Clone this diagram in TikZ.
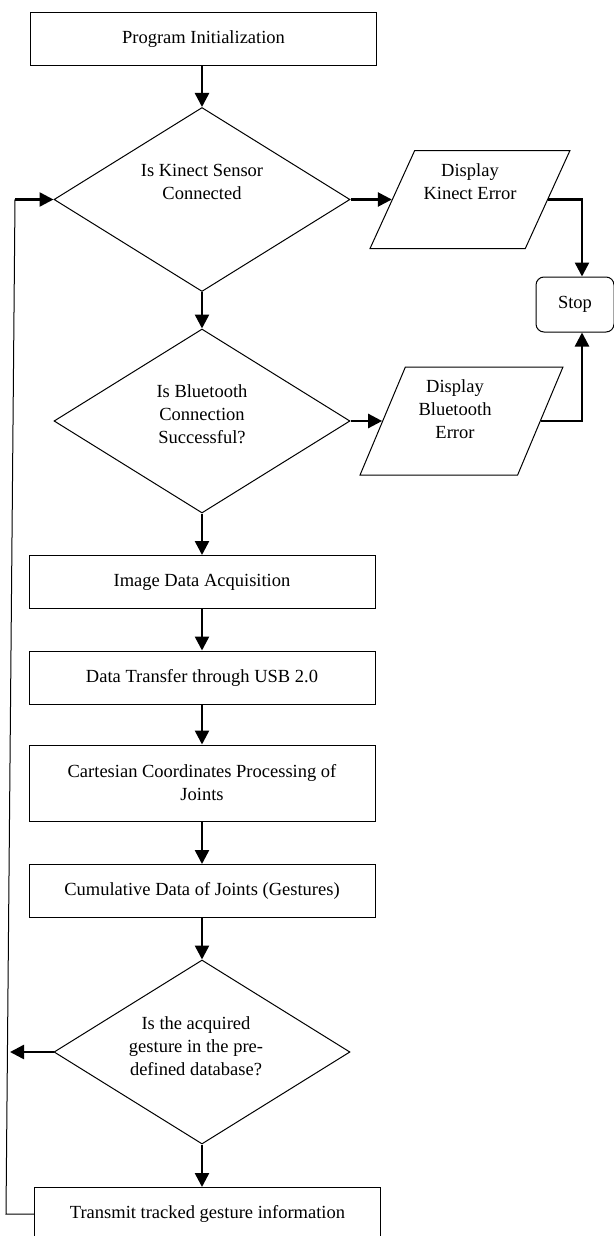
\documentclass[tikz,border=0pt]{standalone}
\usepackage{fontspec}
\setmainfont{Liberation Serif}
\usetikzlibrary{shapes.geometric}
\usetikzlibrary{arrows.meta}
\tikzstyle{process}=[rectangle,draw=black,line width=1,minimum width=346pt,minimum height=53pt,inner sep=0pt,align=center]
\tikzstyle{decision}=[diamond,draw=black,line width=1,minimum width=296pt,minimum height=184pt,inner sep=0pt]
\tikzstyle{io}=[trapezium,trapezium left angle=68,trapezium right angle=112,trapezium stretches,draw=black,line width=1,inner sep=4pt]
\tikzstyle{stopbox}=[rectangle,rounded corners=8pt,draw=black,line width=1,minimum width=78pt,minimum height=55pt]
\tikzstyle{txt}=[align=center,inner sep=0pt]
\tikzstyle{arrow}=[-{Triangle[length=14pt,width=14pt]},line width=2.5]
\tikzstyle{link}=[line width=1]
\tikzset{every picture/.style={
    x=1pt,y=-1pt,
    font=\fontsize{18.5}{23}\selectfont
  }
}

\begin{document}
\begin{tikzpicture}
      \useasboundingbox (0,0) rectangle (613,1236);
      \node[process] at (203.5,39.5) (init) {Program Initialization};
      \node[decision] at (202,199.5) (d1) {};
      \node[txt] at (202,181.5) (d1txt) {Is Kinect Sensor\\Connected};
      \node[io,minimum width=200pt,minimum height=98pt] at (470,199.5) (p1) {};
      \node[txt] at (470,182) (p1txt) {Display\\Kinect Error};
      \node[stopbox] at (575,304.5) (stop) {Stop};
      \node[decision] at (202,421) (d2) {};
      \node[txt] at (202,414) (d2txt) {Is Bluetooth\\Connection\\Successful?};
      \node[io,minimum width=203pt,minimum height=108pt] at (461.5,421) (p2) {};
      \node[txt] at (455,409) (p2txt) {Display\\Bluetooth\\Error};
      \node[process] at (202,582) (img) {Image Data Acquisition};
      \node[process] at (202,677.5) (usb) {Data Transfer through USB 2.0};
      \node[process,minimum height=76pt] at (202,783) (cart) {Cartesian Coordinates Processing of\\Joints};
      \node[process] at (202,891) (cum) {Cumulative Data of Joints (Gestures)};
      \node[decision] at (202,1052) (d3) {};
      \node[txt] at (196,1046) (d3txt) {Is the acquired\\gesture in the pre-\\defined database?};
      \node[process] at (207.5,1214) (tx) {Transmit tracked gesture information};
      % main flow
      \draw[arrow] (d1 |- init.south)--(d1.north);
      \draw[arrow] (d1)--(d2);
      \draw[arrow] (d2)--(img);
      \draw[arrow] (img)--(usb);
      \draw[arrow] (usb)--(cart);
      \draw[arrow] (cart)--(cum);
      \draw[arrow] (cum)--(d3);
      \draw[arrow] (d3.south)--(d3.south |- tx.north);
      % error branches
      \draw[arrow] (d1.east)--(p1.west);
      \draw[arrow] (d2.east)--(p2.west);
      \draw[arrow] (p1.east) -| ([xshift=7pt]stop.north);
      \draw[arrow] (p2.east) -| ([xshift=7pt]stop.south);
      % loop back
      \coordinate (lb) at (6,1214);
      \coordinate (lt) at (15,199.5);
      \coordinate (lm) at (10,1052);
      \draw[link] (tx.west)--(lb)--(lt);
      \draw[arrow] (lt)--(d1.west);
      \draw[arrow] (d3.west)--(lm);
    \end{tikzpicture}
\end{document}
